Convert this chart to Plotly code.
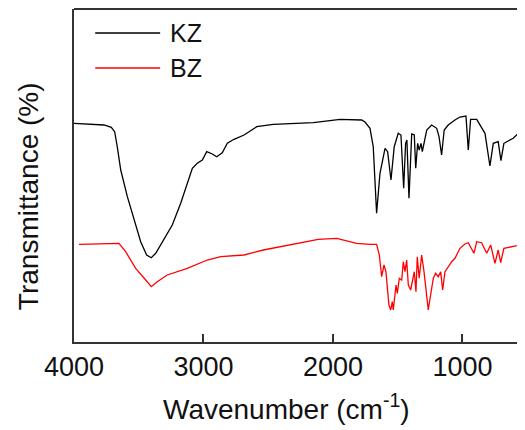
import plotly.graph_objects as go

# KZ (black) spectrum (relative transmittance units)
kz_wn = [4000, 3768, 3712, 3686, 3666, 3639, 3588, 3537, 3485, 3439, 3403, 3369, 3318, 3241,
         3176, 3125, 3086, 3048, 3009, 2975, 2932, 2898, 2855, 2816, 2764, 2687, 2589, 2461,
         2280, 2152, 2023, 1946, 1778, 1753, 1714, 1689, 1663, 1637, 1598, 1578, 1552, 1527,
         1496, 1475, 1454, 1439, 1429, 1413, 1392, 1372, 1361, 1346, 1334, 1320, 1310, 1295,
         1276, 1238, 1199, 1181, 1161, 1141, 1110, 1058, 1020, 973, 955, 937, 890, 826, 788,
         762, 724, 703, 680, 608, 556, 517]
kz_t = [218.7, 217, 214.7, 210.3, 195.3, 172, 145.3, 122, 100.3, 87, 84.3, 88.7, 100.3, 117,
        138.7, 158.7, 173.7, 178.7, 182, 190.3, 188, 185.3, 189.3, 198.7, 202.7, 207, 215.3, 217.7,
        218.7, 219.3, 221.3, 222.7, 222, 220, 213.7, 195.3, 128.7, 168.7, 193.7, 190.3, 162, 195.3,
        208.7, 207, 153.7, 198.7, 202, 143.7, 208, 207, 173.7, 198.7, 192, 198.7, 190.3, 200.3,
        212, 217, 213.7, 205.3, 187, 212, 217, 222, 225, 226, 192, 222.7, 222.7, 208.7, 176,
        198.7, 200.3, 181.3, 198.7, 203.7, 210.3, 217]

# BZ (red) spectrum
bz_wn = [3961, 3653, 3601, 3524, 3446, 3403, 3357, 3280, 3125, 2971, 2867, 2687, 2538, 2280,
         2114, 1971, 1817, 1714, 1663, 1642, 1624, 1606, 1591, 1568, 1554, 1542, 1534, 1513,
         1503, 1488, 1469, 1457, 1444, 1431, 1418, 1400, 1384, 1372, 1359, 1349, 1334, 1315,
         1297, 1276, 1264, 1246, 1225, 1207, 1187, 1168, 1153, 1135, 1110, 1083, 1058, 1019,
         981, 955, 911, 890, 852, 813, 782, 749, 724, 705, 680, 608, 517]
bz_t = [97.7, 98.7, 90.3, 73.7, 62, 55.3, 60.3, 67, 73.7, 82, 85.3, 87, 92, 98.7,
        102.7, 103.7, 98.7, 97.7, 97.7, 87, 65.3, 77, 70.3, 37, 32, 40.3, 32, 57,
        48.7, 63.7, 62, 80.3, 70.3, 82, 57, 52, 62, 70.3, 50.3, 85.3, 63.7, 87,
        70.3, 45.3, 32, 47, 63.7, 68.7, 65.3, 70.3, 52, 70.3, 75.3, 80.3, 83.7, 93.7,
        98, 99.3, 88.7, 100.3, 99.3, 88.7, 97, 78.7, 92, 79.3, 93.7, 95.3, 98]

series_names = ["KZ", "BZ"]
series_colors = ["#000000", "#ff0000"]
x_ticks = [4000, 3000, 2000, 1000]
x_tick_labels = ["4000", "3000", "2000", "1000"]

FONT = "Liberation Sans, Arial, sans-serif"
AX = "#333333"

fig = go.Figure()
fig.add_trace(go.Scatter(x=kz_wn, y=kz_t, mode="lines", name=series_names[0],
                         line=dict(color=series_colors[0], width=1.3), showlegend=False))
fig.add_trace(go.Scatter(x=bz_wn, y=bz_t, mode="lines", name=series_names[1],
                         line=dict(color=series_colors[1], width=1.3), showlegend=False))

# page body has an 8px margin, so the figure is sized/offset to compensate
fig.update_layout(
    width=525, height=422,
    margin=dict(l=66, r=8, t=1, b=88),
    plot_bgcolor="white", paper_bgcolor="white",
    font=dict(family=FONT, color="#111111"),
    xaxis=dict(range=[4000, 517], tickvals=x_ticks, ticktext=x_tick_labels,
               ticks="inside", ticklen=8, tickwidth=1.5, tickcolor=AX,
               showline=True, linecolor=AX, linewidth=2, showgrid=False, zeroline=False,
               tickfont=dict(size=27, family=FONT, color="#111111")),
    yaxis=dict(range=[0, 333], showticklabels=False, ticks="", showline=True,
               linecolor=AX, linewidth=2, showgrid=False, zeroline=False),
)

# top border
fig.add_shape(type="line", xref="paper", yref="paper", x0=0, x1=1, y0=1, y1=1,
              line=dict(color=AX, width=2))

# legend (manual, long sample lines)
leg_y = [0.928, 0.823]
for name, col, yy in zip(series_names, series_colors, leg_y):
    fig.add_shape(type="line", xref="paper", yref="paper", x0=0.047, x1=0.191, y0=yy, y1=yy,
                  line=dict(color=col, width=1.5))
    fig.add_annotation(text=name, xref="paper", yref="paper", x=0.208, y=yy,
                       xanchor="left", yanchor="middle", showarrow=False,
                       font=dict(size=25, family=FONT, color="#111111"))

# axis titles
fig.add_annotation(text="Wavenumber (cm<sup>-1</sup>)", xref="paper", yref="paper",
                   x=0.472, y=-0.195, xanchor="center", yanchor="middle", showarrow=False,
                   font=dict(size=28, family=FONT, color="#111111"))
fig.add_annotation(text="Transmittance (%)", xref="paper", yref="paper",
                   x=-0.102, y=0.438, xanchor="center", yanchor="middle", showarrow=False,
                   textangle=-90, font=dict(size=28, family=FONT, color="#111111"))

fig.write_html("out.html")
